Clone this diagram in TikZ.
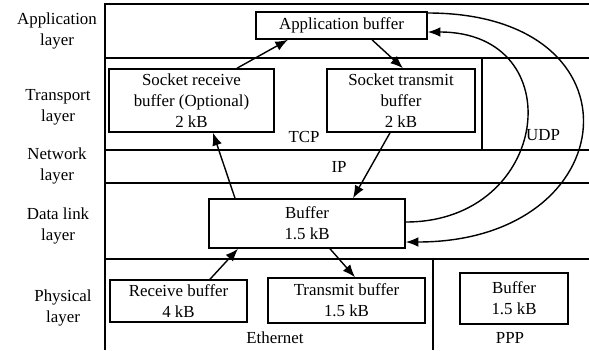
\documentclass[tikz,border=0pt]{standalone}
\usepackage{fontspec}
\setmainfont{Liberation Serif}[Ligatures=TeX]
\newfontfamily\timesfont{Liberation Serif}
\usepackage{tikz}
\usetikzlibrary{calc,arrows.meta}
\definecolor{white}{RGB}{255,255,255}
\definecolor{black}{RGB}{0,0,0}

\begin{document}
\begin{tikzpicture}[x=0.025cm,y=-0.025cm,font=\timesfont\fontsize{12}{15}\selectfont,
	buf/.style={rectangle,draw=black,fill=white,line width=1.1pt,inner sep=0pt,align=center},
	lyr/.style={align=center},
	frame/.style={black,line width=1.2pt},
	link/.style={black,->,line width=1pt},
	>={Latex[length=9pt,width=7pt]}]
	\useasboundingbox (0,0) rectangle (589,350);

	% layer frame
	\draw[frame] (105,350) -- (105,4) -- (589,4);
	\foreach \y in {58,150,183,259}
		\draw[frame] (105,\y) -- (589,\y);
	\draw[frame] (482,58) -- (482,150);
	\draw[frame] (433,259) -- (433,350);

	\node[lyr] (l1) at (57,31) {Application\\layer};
	\node[lyr] (l2) at (58,107) {Transport\\layer};
	\node[lyr] (l3) at (57,166) {Network\\layer};
	\node[lyr] (l4) at (58,226) {Data link\\layer};
	\node[lyr] (l5) at (63,308) {Physical\\layer};

	\node (tcp) at (304,137) {TCP};
	\node (udp) at (543,135) {UDP};
	\node (ip) at (339,167) {IP};
	\node (eth) at (275,338) {Ethernet};
	\node (ppp) at (510,338) {PPP};

	\node[buf,minimum width=4.275cm,minimum height=0.675cm] (appbuf) at (341.5,25.5) {Application buffer};
	\node[buf,minimum width=4.125cm,minimum height=1.575cm] (sockrecv) at (191.5,100.5) {Socket receive\\buffer (Optional)\\2 kB};
	\node[buf,minimum width=3.7cm,minimum height=1.575cm] (socktx) at (401,100.5) {Socket transmit\\buffer\\2 kB};
	\node[buf,minimum width=4.9cm,minimum height=1.225cm] (dlbuf) at (307,223.5) {Buffer\\1.5 kB};
	\node[buf,minimum width=3.425cm,minimum height=1.05cm] (recvbuf) at (178.5,301) {Receive buffer\\4 kB};
	\node[buf,minimum width=3.925cm,minimum height=1.125cm] (txbuf) at (346.5,300.5) {Transmit buffer\\1.5 kB};
	\node[buf,minimum width=2.7cm,minimum height=1.275cm] (pppbuf) at (514,298.5) {Buffer\\1.5 kB};

	\foreach \s/\sx/\t/\tx in {sockrecv.north/45.5/appbuf.south/-53.5,
		appbuf.south/30.5/socktx.north/2,
		socktx.south/-11/dlbuf.north/46,
		dlbuf.north/-72/sockrecv.south/21.5,
		recvbuf.north/31.5/dlbuf.south/-69,
		dlbuf.south/23/txbuf.north/8.5}
		\draw[link] ($(\s)+(\sx,0)$) -- ($(\t)+(\tx,0)$);

	% UDP paths
	\draw[link] ($(appbuf.east)+(0,-12.5)$) .. controls +(220,0) and +(220,0) .. ($(dlbuf.east)+(0,18.5)$);
	\draw[link] ($(dlbuf.east)+(0,-1.5)$) .. controls +(145,0) and +(145,0) .. ($(appbuf.east)+(0,6.5)$);
\end{tikzpicture}
\end{document}
